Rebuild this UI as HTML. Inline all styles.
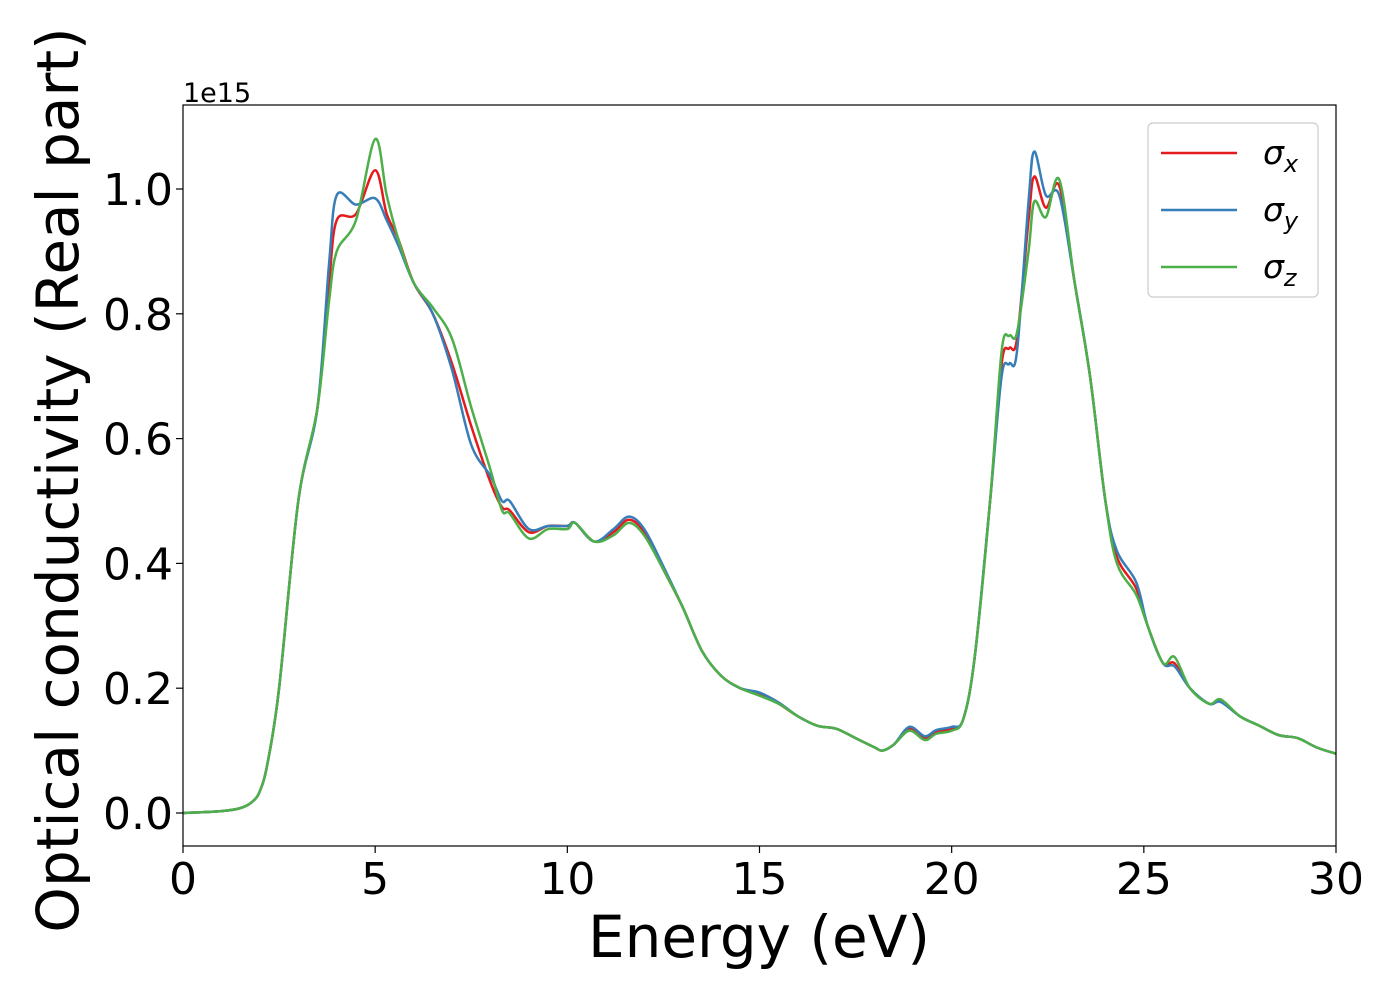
<!DOCTYPE html>
<html><head><meta charset="utf-8"><style>
body{margin:0;background:#fff;font-family:"Liberation Sans","DejaVu Sans",sans-serif;}
</style></head><body>
<svg id="chart" width="1400" height="1000" xmlns="http://www.w3.org/2000/svg" font-family="DejaVu Sans, Liberation Sans, sans-serif"></svg>
<script>
const energy = [0,1,1.5,1.8,2,2.2,2.5,3,3.5,3.8,4.0,4.5,5.0,5.3,5.6,6.0,6.5,7.0,7.5,8.0,8.3,8.5,9.0,9.5,10.0,10.2,10.7,11.2,11.6,12.0,12.5,13.0,13.5,14.0,14.5,15.0,15.5,16.0,16.5,17.0,17.5,18.0,18.2,18.5,18.9,19.3,19.6,20.0,20.3,20.6,21.0,21.3,21.5,21.7,22.0,22.15,22.45,22.8,23.2,23.6,24.0,24.3,24.8,25.1,25.5,25.8,26.2,26.7,27.0,27.5,28.0,28.5,29.0,29.5,30.0];
const sigmaX = [0,0.003,0.008,0.018,0.035,0.08,0.2,0.5,0.65,0.85,0.95,0.96,1.03,0.96,0.92,0.85,0.8,0.72,0.62,0.53,0.49,0.485,0.45,0.46,0.46,0.465,0.435,0.45,0.47,0.45,0.39,0.33,0.26,0.22,0.2,0.19,0.175,0.155,0.14,0.135,0.12,0.105,0.10,0.11,0.135,0.12,0.13,0.135,0.15,0.25,0.5,0.72,0.745,0.76,0.95,1.02,0.97,1.005,0.85,0.7,0.5,0.41,0.36,0.3,0.24,0.24,0.2,0.175,0.18,0.155,0.14,0.125,0.12,0.105,0.095];
const sigmaY = [0,0.003,0.008,0.018,0.035,0.08,0.2,0.5,0.65,0.88,0.99,0.975,0.985,0.95,0.91,0.85,0.8,0.71,0.59,0.54,0.5,0.5,0.455,0.46,0.46,0.465,0.435,0.455,0.475,0.455,0.395,0.33,0.26,0.22,0.2,0.193,0.177,0.155,0.14,0.135,0.12,0.105,0.10,0.11,0.138,0.123,0.133,0.138,0.15,0.25,0.5,0.7,0.72,0.74,0.98,1.06,0.99,0.99,0.85,0.7,0.5,0.42,0.37,0.3,0.24,0.235,0.2,0.175,0.178,0.155,0.14,0.125,0.12,0.105,0.095];
const sigmaZ = [0,0.003,0.008,0.018,0.035,0.08,0.2,0.5,0.65,0.82,0.9,0.95,1.08,0.99,0.92,0.85,0.81,0.76,0.65,0.55,0.485,0.48,0.44,0.455,0.455,0.465,0.435,0.445,0.465,0.445,0.39,0.33,0.26,0.22,0.2,0.188,0.175,0.155,0.14,0.135,0.12,0.105,0.10,0.11,0.132,0.117,0.127,0.132,0.15,0.25,0.5,0.74,0.765,0.77,0.9,0.98,0.955,1.015,0.85,0.7,0.5,0.40,0.35,0.3,0.24,0.25,0.2,0.175,0.182,0.155,0.14,0.125,0.12,0.105,0.095];
const xTicks = [0,5,10,15,20,25,30];
const yTicks = [0.0,0.2,0.4,0.6,0.8,1.0];
const yTickLabels = ["0.0","0.2","0.4","0.6","0.8","1.0"];

const NS="http://www.w3.org/2000/svg";
const svg=document.getElementById('chart');
const L=183,R=1336,T=105,B=846;
const xs=v=>L+(v-0)/(30-0)*(R-L);
const ys=v=>813-v*624;
function mk(tag,attrs,parent){const e=document.createElementNS(NS,tag);for(const k in attrs)e.setAttribute(k,attrs[k]);(parent||svg).appendChild(e);return e;}
const clip=mk('clipPath',{id:'pc'});mk('rect',{x:L,y:T,width:R-L,height:B-T},clip);
function pathFor(xv,yv){const p=xv.map((x,i)=>[xs(x),ys(yv[i])]);let d=`M${p[0][0]},${p[0][1]}`;
for(let i=0;i<p.length-1;i++){const p0=p[Math.max(0,i-1)],p1=p[i],p2=p[i+1],p3=p[Math.min(p.length-1,i+2)];
const c1x=p1[0]+(p2[0]-p0[0])/6,c1y=p1[1]+(p2[1]-p0[1])/6,c2x=p2[0]-(p3[0]-p1[0])/6,c2y=p2[1]-(p3[1]-p1[1])/6;
d+=` C${c1x},${c1y} ${c2x},${c2y} ${p2[0]},${p2[1]}`;}return d;}
const series=[[sigmaX,'#e41a1c','series-sigma-x'],[sigmaY,'#377eb8','series-sigma-y'],[sigmaZ,'#4daf4a','series-sigma-z']];
const g=mk('g',{'clip-path':'url(#pc)'});
series.forEach(s=>{const e=mk('path',{d:pathFor(energy,s[0]),fill:'none',stroke:s[1],'stroke-width':2.5},g);

});
const frame=mk('rect',{x:L,y:T,width:R-L,height:B-T,fill:'none',stroke:'#000','stroke-width':1.2});


xTicks.forEach(t=>{mk('line',{x1:xs(t),x2:xs(t),y1:B,y2:B+7,stroke:'#000','stroke-width':1.2});
const e=mk('text',{x:xs(t),y:B+48,'font-size':44,'text-anchor':'middle'});e.textContent=t;

});
yTicks.forEach((t,i)=>{mk('line',{x1:L-7,x2:L,y1:ys(t),y2:ys(t),stroke:'#000','stroke-width':1.2});
const e=mk('text',{x:L-10,y:ys(t)+16,'font-size':44,'text-anchor':'end'});e.textContent=yTickLabels[i];

});
let e=mk('text',{x:L,y:T-3,'font-size':27});e.textContent='1e15';


e=mk('text',{x:759,y:957,'font-size':58,'text-anchor':'middle'});e.textContent='Energy (eV)';


e=mk('text',{x:0,y:0,'font-size':58,'text-anchor':'middle',transform:'translate(78,480) rotate(-90)'});e.textContent='Optical conductivity (Real part)';


const lg=mk('g',{});


mk('rect',{x:1148,y:123,width:170,height:174,rx:5,fill:'#fff',stroke:'#ccc','stroke-width':1.2,'fill-opacity':0.8},lg);
const subs=['x','y','z'];
series.forEach((s,i)=>{const y=153+i*57;mk('line',{x1:1161,x2:1237,y1:y,y2:y,stroke:s[1],'stroke-width':2.5},lg);
const t=mk('text',{x:1263,y:y+11,'font-size':33,'font-style':'italic'},lg);t.textContent='σ';
const sb=mk('tspan',{'font-size':24,dy:8},t);sb.textContent=subs[i];

});
</script>
</body></html>
